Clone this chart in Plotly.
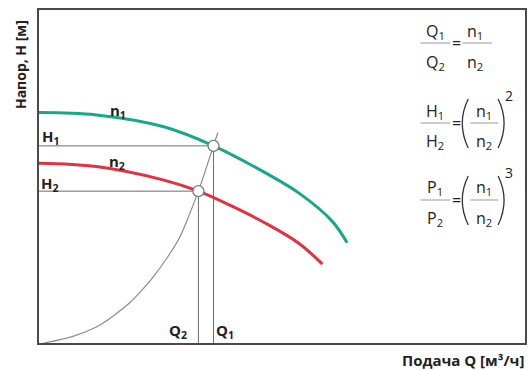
import plotly.graph_objects as go

# pump curve at speed n1 (Q, H in % of axis span)
q_n1 = [0, 11.8, 25.5, 35.9, 46.7, 53.5, 60.3, 63.4]
h_n1 = [69.2, 68.5, 65.0, 59.2, 51.0, 45.0, 36.6, 30.1]

# pump curve at speed n2
q_n2 = [0, 11.8, 25.5, 32.8, 39.8, 46.7, 53.5, 58.3]
h_n2 = [54.0, 53.0, 49.0, 45.6, 41.0, 35.9, 29.9, 23.7]

# system curve
q_sys = [1.0, 7.0, 11.8, 15.0, 18.6, 21.0, 23.1, 26.5, 28.9, 30.9, 32.8, 35.9, 36.8]
h_sys = [0.0, 2.0, 4.8, 7.8, 12.0, 15.6, 19.1, 25.9, 31.6, 38.4, 45.6, 59.2, 63.2]

# operating points
Q1, H1 = 35.9, 59.2
Q2, H2 = 32.8, 45.6

TEAL = "#17a88b"
RED = "#e23242"
W, H = 530, 370
ML, MR, MT, MB = 39, 3, 10, 27


def paper(x, y):
    # pixel position -> paper coords
    return (x - ML) / (W - ML - MR), (H - MB - y) / (H - MT - MB)


fig = go.Figure()

# guide lines to the axes
for q, h in [(Q1, H1), (Q2, H2)]:
    fig.add_trace(go.Scatter(x=[0, q, q], y=[h, h, 0], mode="lines",
                             line=dict(color="#6b6b6b", width=1), hoverinfo="skip"))

fig.add_trace(go.Scatter(x=q_sys, y=h_sys, mode="lines", line_shape="spline",
                         line=dict(color="#8c8c8c", width=1.2), hoverinfo="skip"))
fig.add_trace(go.Scatter(x=q_n1, y=h_n1, mode="lines", line_shape="spline",
                         line=dict(color=TEAL, width=3)))
fig.add_trace(go.Scatter(x=q_n2, y=h_n2, mode="lines", line_shape="spline",
                         line=dict(color=RED, width=3)))
fig.add_trace(go.Scatter(x=[Q1, Q2], y=[H1, H2], mode="markers",
                         marker=dict(size=11, color="white",
                                     line=dict(color="#7a7a7a", width=1.3))))

annotations = []


def label(text, x, y, size=15, bold=True, **kw):
    # x, y in page pixels, text centred on them
    px, py = paper(x, y)
    if bold:
        text = "<b>" + text + "</b>"
    opts = dict(xanchor="center", yanchor="middle")
    opts.update(kw)
    annotations.append(dict(text=text, x=px, y=py, xref="paper", yref="paper",
                            showarrow=False, font=dict(size=size, color="#222"), **opts))


# curve labels
label("n<sub>1</sub>", 118, 111)
label("n<sub>2</sub>", 117, 162)
label("H<sub>1</sub>", 51, 137)
label("H<sub>2</sub>", 50, 184)
label("Q<sub>2</sub>", 179, 331)
label("Q<sub>1</sub>", 226, 331)

# axis titles
label("Напор, Н [м]", 20, 65, size=14, textangle=-90)
label("Подача Q [м³/ч]", 528, 360, size=15, xanchor="right")

shapes = []


def frac_line(x0, x1, y):
    a = paper(x0, y)
    b = paper(x1, y)
    shapes.append(dict(type="line", xref="paper", yref="paper", x0=a[0], y0=a[1],
                       x1=b[0], y1=b[1], line=dict(color="#9a9a9a", width=1)))


def paren(x, y, side):
    top = paper(x, y - 24)
    bot = paper(x, y + 25)
    bulge = -12 if side == "l" else 12
    mid = paper(x + bulge, y)
    path = "M {},{} Q {},{} {},{}".format(top[0], top[1], mid[0], mid[1], bot[0], bot[1])
    shapes.append(dict(type="path", xref="paper", yref="paper", path=path,
                       line=dict(color="#333", width=1.3)))


# similarity laws
rows = [("Q", 43, None), ("H", 123, "2"), ("P", 200, "3")]
for sym, ly, power in rows:
    frac_line(422, 452, ly)
    label(sym + "<sub>1</sub>", 437, ly - 12, size=16, bold=False)
    label(sym + "<sub>2</sub>", 437, ly + 19, size=16, bold=False)
    label("=", 458, ly, size=16, bold=False)
    if power is None:
        frac_line(464, 494, ly)
        label("n<sub>1</sub>", 477, ly - 12, size=16, bold=False)
        label("n<sub>2</sub>", 477, ly + 19, size=16, bold=False)
    else:
        frac_line(472, 500, ly)
        label("n<sub>1</sub>", 486, ly - 12, size=16, bold=False)
        label("n<sub>2</sub>", 486, ly + 19, size=16, bold=False)
        paren(470, ly, "l")
        paren(500, ly, "r")
        label(power, 511, ly - 28, size=14, bold=False)

axis = dict(range=[0, 100], showgrid=False, zeroline=False, showticklabels=False,
            ticks="", showline=True, mirror=True, linecolor="#4a4a4a", linewidth=1.5)

fig.update_layout(
    width=W, height=H, autosize=False,
    margin=dict(l=ML, r=MR, t=MT, b=MB),
    paper_bgcolor="white", plot_bgcolor="white",
    font=dict(family="Open Sans"),
    showlegend=False,
    xaxis=axis, yaxis=axis,
    annotations=annotations, shapes=shapes,
)

fig.write_html("out.html", config={"displayModeBar": False},
               post_script="document.body.style.margin='0';")
